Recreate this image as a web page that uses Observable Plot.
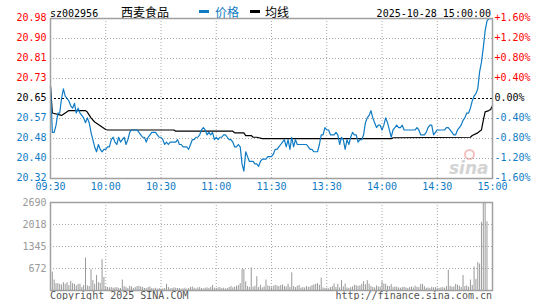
<!DOCTYPE html>
<html><head><meta charset="utf-8">
<script src="https://cdn.jsdelivr.net/npm/d3@7"></script>
<script src="https://cdn.jsdelivr.net/npm/@observablehq/plot@0.6"></script>
<style>
body{margin:0;background:#fff;}
#wrap{position:relative;width:545px;height:300px;overflow:hidden;}
#wrap svg{position:absolute;left:0;}
#eye{position:absolute;left:464px;top:149px;width:7px;height:7px;border:2px solid #f4c0c0;border-radius:50%;}
</style></head><body><div id="wrap"><div id="eye"></div></div>
<script>
const stockCode = "sz002956";
const stockName = "西麦食品";
const legendPrice = "价格";
const legendAvg = "均线";
const stamp = "2025-10-28 15:00:00";
const copyright = "Copyright 2025 SINA.COM";
const siteUrl = "http://finance.sina.com.cn";
const prevClose = 20.65;

// minute-by-minute price, 09:30 .. 11:30 / 13:00 .. 15:00 (241 points)
const price = [
20.70,20.51,20.51,20.54,20.59,20.59,20.65,20.69,20.66,20.65,
20.64,20.62,20.61,20.63,20.59,20.61,20.59,20.58,20.57,20.55,
20.57,20.55,20.51,20.48,20.45,20.43,20.46,20.44,20.43,20.44,
20.44,20.45,20.45,20.48,20.49,20.47,20.46,20.49,20.47,20.48,
20.49,20.46,20.48,20.51,20.52,20.52,20.52,20.52,20.51,20.50,
20.49,20.49,20.47,20.49,20.50,20.51,20.51,20.51,20.50,20.49,
20.49,20.48,20.46,20.47,20.46,20.47,20.47,20.47,20.47,20.48,
20.46,20.46,20.45,20.45,20.45,20.44,20.46,20.48,20.48,20.49,
20.49,20.50,20.52,20.53,20.52,20.50,20.51,20.50,20.51,20.48,
20.49,20.48,20.49,20.49,20.50,20.50,20.49,20.48,20.48,20.47,
20.45,20.45,20.46,20.45,20.38,20.35,20.43,20.41,20.39,20.39,
20.39,20.38,20.38,20.37,20.39,20.40,20.40,20.40,20.41,20.41,
20.41,20.42,20.44,20.44,20.45,20.46,20.47,20.48,20.45,20.48,
20.44,20.49,20.45,20.48,20.46,20.46,20.46,20.46,20.46,20.46,
20.45,20.44,20.44,20.43,20.43,20.43,20.46,20.50,20.50,20.53,
20.52,20.52,20.50,20.50,20.50,20.51,20.50,20.46,20.49,20.48,
20.44,20.48,20.46,20.49,20.51,20.50,20.50,20.47,20.48,20.48,
20.50,20.55,20.57,20.58,20.60,20.57,20.55,20.53,20.54,20.54,
20.52,20.54,20.57,20.55,20.52,20.49,20.52,20.53,20.54,20.53,
20.53,20.54,20.52,20.52,20.52,20.52,20.52,20.52,20.52,20.53,
20.52,20.50,20.50,20.50,20.51,20.53,20.54,20.54,20.50,20.51,
20.52,20.52,20.52,20.52,20.52,20.53,20.53,20.52,20.51,20.50,
20.50,20.52,20.53,20.54,20.56,20.57,20.59,20.59,20.61,20.64,
20.66,20.67,20.69,20.76,20.80,20.86,20.93,20.97,20.98,20.98,
20.98];

// average price line read at its turning points
const avgMin = [0,1,6,10,19,20,22,24,26,28,30,31,67,68,99,100,105,106,109,110,112,115,185,186,228,229,232,233,234,235,236,238,239,240];
const avgVal = [20.70,20.59,20.58,20.60,20.60,20.594,20.57,20.553,20.543,20.532,20.522,20.52,20.52,20.515,20.515,20.508,20.508,20.497,20.497,20.49,20.49,20.484,20.484,20.488,20.49,20.497,20.508,20.515,20.52,20.56,20.595,20.60,20.605,20.62];

// minute volume
const volume = [
270,560,320,210,210,190,170,240,190,240,
150,280,210,190,140,190,190,90,150,990,
140,120,640,300,190,460,240,220,940,400,
100,90,80,90,70,80,90,60,60,320,
120,90,60,130,110,60,90,120,130,110,
90,60,60,90,110,60,50,70,40,60,
40,50,60,190,90,50,60,80,70,60,
60,40,50,70,40,60,90,110,70,50,
80,90,60,50,70,80,60,90,150,70,
60,80,90,60,70,50,60,90,120,80,
100,130,150,210,640,640,260,120,90,690,
100,130,420,90,160,80,110,320,140,120,
80,130,160,140,120,150,170,120,110,190,
100,540,120,90,130,150,70,90,80,120,
100,110,150,170,190,210,160,380,80,60,
70,50,90,120,200,90,190,80,300,110,
200,80,60,90,110,160,150,120,140,190,
270,180,300,190,120,90,80,140,110,100,
270,200,190,130,120,180,90,110,100,80,
70,90,100,80,60,90,110,80,130,100,
90,180,190,120,70,80,60,100,80,90,
70,60,80,90,70,120,620,130,100,110,
190,160,130,90,460,120,140,100,320,150,
720,340,860,810,2080,2690,2690,2100,0,0,
0];

const timeTicks = [0,30,60,90,120,150,180,210,240];
const timeLabels = ["09:30","10:00","10:30","11:00","11:30","13:30","14:00","14:30","15:00"];
const pctTicks = [-1.6,-1.2,-0.8,-0.4,0,0.4,0.8,1.2,1.6];
const priceTickLabels = ["20.32","20.40","20.48","20.57","20.65","20.73","20.81","20.90","20.98"];
const pctTickLabels = ["-1.60%","-1.20%","-0.80%","-0.40%","0.00%","+0.40%","+0.80%","+1.20%","+1.60%"];
const volTicks = [672.5,1345,2017.5,2690];
const volTickLabels = ["672","1345","2018","2690"];

const BLUE = "#0f7bc4", RED = "#ff0000", GRID = "#a8a8a8", FRAME = "#a0a0a0";
const MONO = "'DejaVu Sans Mono', monospace";
const wrap = document.getElementById("wrap");

const pts = price.map((p, i) => ({m: i, pct: (p / prevClose - 1) * 100}));
const avgPts = avgMin.map((m, i) => ({m, pct: (avgVal[i] / prevClose - 1) * 100}));
const labs = pctTicks.map((t, i) => ({t, pr: priceTickLabels[i], pc: pctTickLabels[i], c: t > 0 ? RED : t < 0 ? BLUE : "#000"}));
const tl = timeTicks.map((m, i) => ({m, s: timeLabels[i]}));

const p1 = Plot.plot({
  width: 545, height: 195,
  marginLeft: 50, marginRight: 53, marginTop: 18, marginBottom: 17,
  x: {domain: [0, 240], axis: null},
  y: {domain: [-1.6, 1.6], axis: null},
  color: {type: "identity"},
  style: {fontFamily: MONO, fontSize: "10px", background: "transparent", overflow: "visible"},
  marks: [
    Plot.ruleX(timeTicks.slice(1, -1), {stroke: GRID, strokeDasharray: "1,2"}),
    Plot.ruleY(pctTicks.filter(t => t !== 0 && Math.abs(t) < 1.6), {stroke: GRID, strokeDasharray: "1,2"}),
    Plot.ruleY([0], {stroke: "#000", strokeDasharray: "2,2"}),
    Plot.text(["sina"], {frameAnchor: "bottom-right", dx: -4, dy: -5, fontSize: 17, fontStyle: "italic", fontWeight: "bold", fill: "#d3d3d3", textAnchor: "end", lineAnchor: "bottom", fontFamily: "DejaVu Sans"}),
    Plot.line(avgPts, {x: "m", y: "pct", stroke: "#000", strokeWidth: 1.2}),
    Plot.line(pts, {x: "m", y: "pct", stroke: BLUE, strokeWidth: 1.2}),
    Plot.frame({stroke: FRAME, strokeWidth: 1.5}),
    Plot.text(labs, {y: "t", text: "pr", fill: "c", frameAnchor: "left", dx: -4, dy: -0.5, textAnchor: "end"}),
    Plot.text(labs, {y: "t", text: "pc", fill: "c", frameAnchor: "right", dx: 2, dy: -0.5, textAnchor: "start"}),
    Plot.text(tl, {x: "m", text: "s", frameAnchor: "bottom", dy: 11.5, fill: BLUE})
  ]
});
p1.style.top = "0px";
wrap.appendChild(p1);

const vols = volume.map((v, i) => ({m: i, v}));
const vl = volTicks.map((t, i) => ({t, s: volTickLabels[i]}));
const p2 = Plot.plot({
  width: 545, height: 105,
  marginLeft: 50, marginRight: 53, marginTop: 7, marginBottom: 10,
  x: {domain: [0, 240], axis: null},
  y: {domain: [0, 2690], axis: null},
  style: {fontFamily: MONO, fontSize: "10px", background: "transparent", overflow: "visible"},
  marks: [
    Plot.ruleX(timeTicks.slice(1, -1), {stroke: GRID, strokeDasharray: "1,2"}),
    Plot.ruleY(volTicks.slice(0, 3), {stroke: GRID, strokeDasharray: "1,2"}),
    Plot.ruleX(vols, {x: "m", y1: 0, y2: "v", stroke: "#999", strokeWidth: 1}),
    Plot.frame({stroke: FRAME, strokeWidth: 1.5}),
    Plot.text(vl, {y: "t", text: "s", frameAnchor: "left", dx: -4, textAnchor: "end", fill: "#999"})
  ]
});
p2.style.top = "195px";
wrap.appendChild(p2);

// header and footer as SVG text
const hf = d3.create("svg").attr("width", 545).attr("height", 300).style("top", "0px")
  .style("font-family", MONO).style("font-size", "10px").style("pointer-events", "none");
hf.append("text").attr("x", 50).attr("y", 16.5).text(stockCode);
hf.append("text").attr("x", 121).attr("y", 16.5).style("font-family", "'Noto Sans CJK SC'").style("font-size", "12px").text(stockName);
hf.append("rect").attr("x", 199).attr("y", 10).attr("width", 10).attr("height", 3).attr("fill", BLUE);
hf.append("text").attr("x", 215).attr("y", 16.5).style("font-family", "'Noto Sans CJK SC'").style("font-size", "12px").attr("fill", BLUE).text(legendPrice);
hf.append("rect").attr("x", 250).attr("y", 10).attr("width", 10).attr("height", 3).attr("fill", "#000");
hf.append("text").attr("x", 265).attr("y", 16.5).style("font-family", "'Noto Sans CJK SC'").style("font-size", "12px").text(legendAvg);
hf.append("text").attr("x", 491).attr("y", 16.5).attr("text-anchor", "end").text(stamp);
hf.append("text").attr("x", 50).attr("y", 299).attr("fill", "#555").text(copyright);
hf.append("text").attr("x", 492).attr("y", 299).attr("text-anchor", "end").attr("fill", "#555").text(siteUrl);
wrap.appendChild(hf.node());
</script></body></html>
